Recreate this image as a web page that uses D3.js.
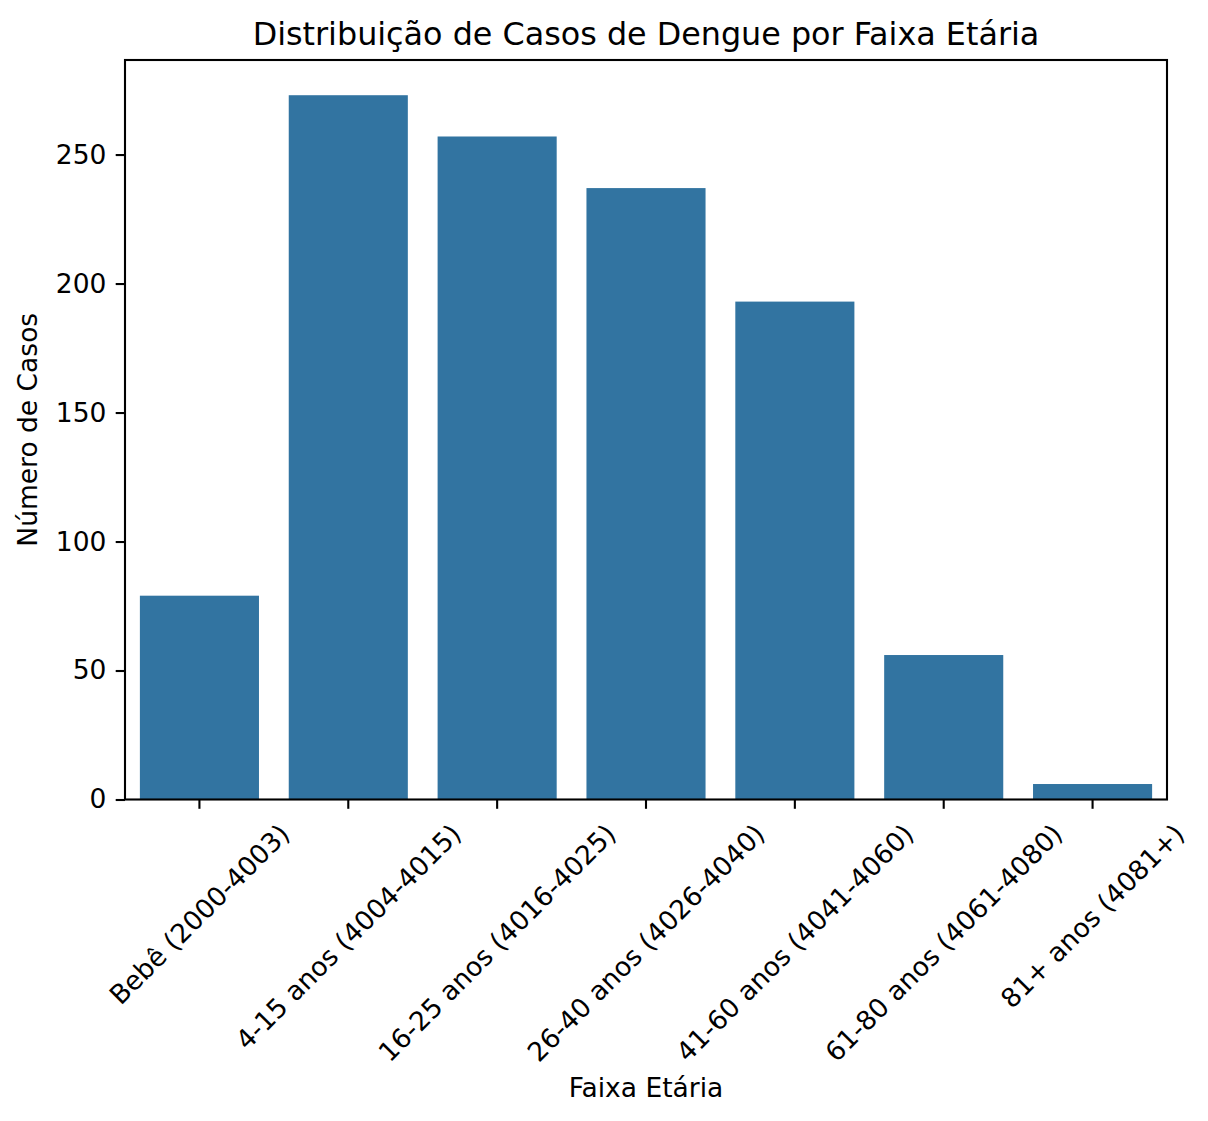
<!DOCTYPE html>
<html>
<head>
<meta charset="utf-8">
<script src="https://cdn.jsdelivr.net/npm/d3@7"></script>
<style>
  body { margin: 0; background: #fff; }
  svg { display: block; font-family: "DejaVu Sans", sans-serif; }
</style>
</head>
<body>
<svg id="chart" width="1208" height="1121"></svg>
<script>
// data
var categories = [
    "Bebê (2000-4003)",
    "4-15 anos (4004-4015)",
    "16-25 anos (4016-4025)",
    "26-40 anos (4026-4040)",
    "41-60 anos (4041-4060)",
    "61-80 anos (4061-4080)",
    "81+ anos (4081+)"
];
var casos = [79, 273, 257, 237, 193, 56, 6];
var yTicks = [0, 50, 100, 150, 200, 250];

var titleText = "Distribuição de Casos de Dengue por Faixa Etária";
var xLabel = "Faixa Etária";
var yLabel = "Número de Casos";

// axes box (plot area in page pixels)
var axLeft = 125, axRight = 1167, axTop = 60, axBottom = 799.5;
var fs = 26.5;
var tickLen = 9.3, tickPad = 9.3;

var svg = d3.select("#chart");

var x = d3.scaleBand()
    .domain(categories)
    .range([axLeft, axRight])
    .paddingInner(0.2)
    .paddingOuter(0.1);

// matplotlib adds a 5% margin above the tallest bar
var y = d3.scaleLinear()
    .domain([0, d3.max(casos) * 1.05])
    .range([axBottom, axTop]);

// bars
svg.append("g")
    .selectAll("rect")
    .data(casos)
    .join("rect")
    .attr("x", (d, i) => x(categories[i]))
    .attr("y", d => y(d))
    .attr("width", x.bandwidth())
    .attr("height", d => y(0) - y(d))
    .attr("fill", "#3274a1");

// y axis
var yAxis = svg.append("g")
    .attr("transform", "translate(" + axLeft + ",0)")
    .call(d3.axisLeft(y).tickValues(yTicks).tickSize(tickLen).tickPadding(tickPad).tickFormat(d3.format("d")));
yAxis.select(".domain").remove();
yAxis.selectAll(".tick line").attr("stroke", "#000").attr("stroke-width", 2.1);
yAxis.selectAll(".tick text")
    .attr("font-size", fs)
    .attr("font-family", "DejaVu Sans")
    .attr("fill", "#000");

// x axis, labels drawn separately so they can be rotated like matplotlib
var xAxis = svg.append("g")
    .attr("transform", "translate(0," + axBottom + ")")
    .call(d3.axisBottom(x).tickSize(tickLen).tickFormat(""));
xAxis.select(".domain").remove();
xAxis.selectAll(".tick line").attr("stroke", "#000").attr("stroke-width", 2.1);

var lineH = fs * 1.164;
svg.append("g")
    .selectAll("text")
    .data(categories)
    .join("text")
    .attr("font-size", fs)
    .attr("fill", "#000")
    .attr("text-anchor", "middle")
    .attr("dy", "0.35em")
    .text(d => d)
    .each(function(d) {
        var w = this.getComputedTextLength();
        var side = (w + lineH) / Math.SQRT2;
        var cx = x(d) + x.bandwidth() / 2;
        var cy = axBottom + tickLen + tickPad + side / 2;
        d3.select(this).attr("transform", "translate(" + cx + "," + cy + ") rotate(-45)");
    });

// frame
svg.append("rect")
    .attr("x", axLeft)
    .attr("y", axTop)
    .attr("width", axRight - axLeft)
    .attr("height", axBottom - axTop)
    .attr("fill", "none")
    .attr("stroke", "#000")
    .attr("stroke-width", 2.1);

// title and axis labels
svg.append("text")
    .attr("x", (axLeft + axRight) / 2)
    .attr("y", 45)
    .attr("text-anchor", "middle")
    .attr("font-size", 31.8)
    .text(titleText);

svg.append("text")
    .attr("x", (axLeft + axRight) / 2)
    .attr("y", 1097)
    .attr("text-anchor", "middle")
    .attr("font-size", fs)
    .text(xLabel);

svg.append("text")
    .attr("transform", "translate(37," + (axTop + axBottom) / 2 + ") rotate(-90)")
    .attr("text-anchor", "middle")
    .attr("font-size", fs)
    .text(yLabel);
</script>
</body>
</html>
